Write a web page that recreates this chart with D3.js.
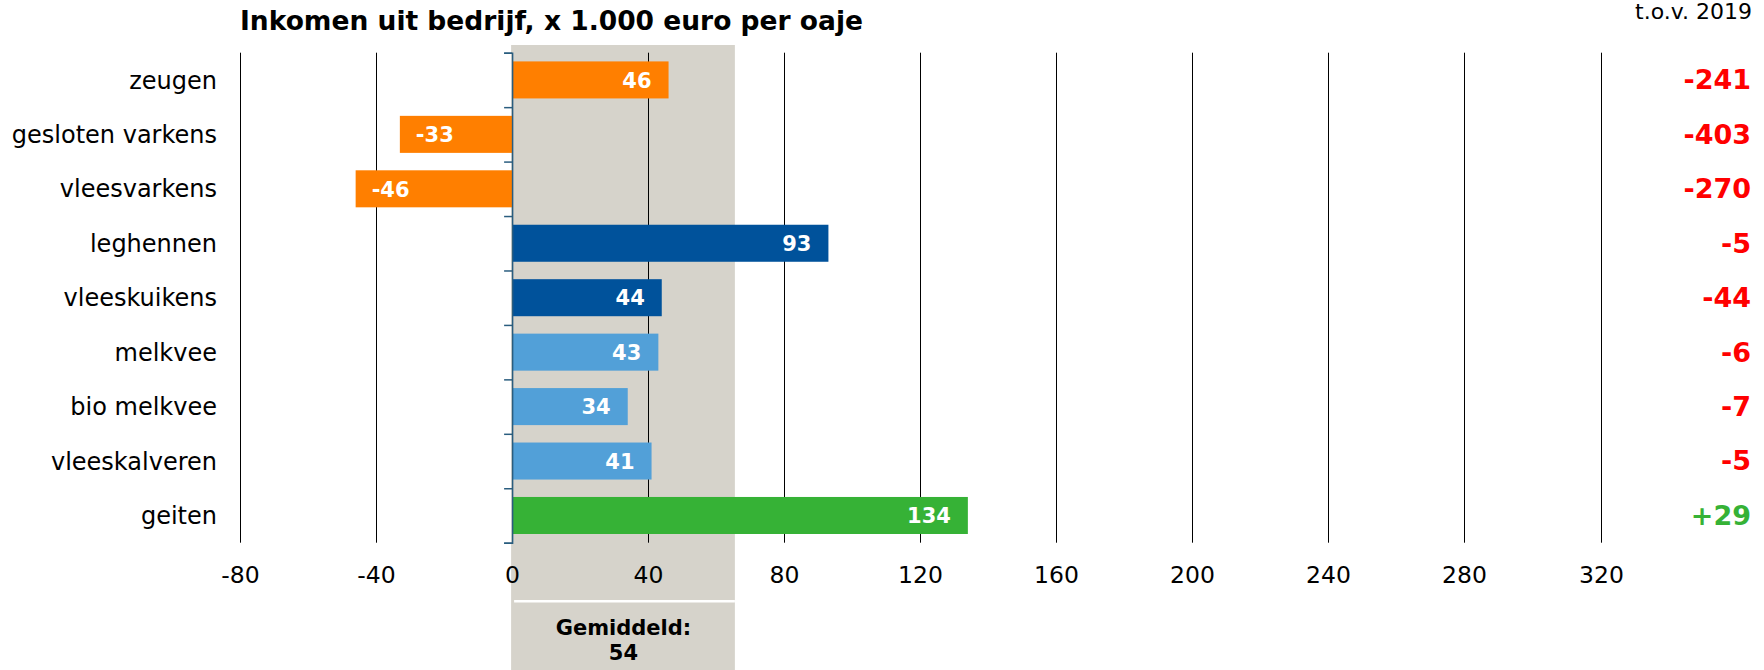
<html>
<head>
<meta charset="utf-8">
<script src="https://d3js.org/d3.v7.min.js"></script>
<style>
  body { margin: 0; background: #fff; }
  text { font-family: "DejaVu Sans", Verdana, sans-serif; }
</style>
</head>
<body>
<svg width="1764" height="670"></svg>
<script>
// data
var categories = ["zeugen", "gesloten varkens", "vleesvarkens", "leghennen", "vleeskuikens",
                  "melkvee", "bio melkvee", "vleeskalveren", "geiten"];
var sectors = ["varkens", "varkens", "varkens", "pluimvee", "pluimvee",
               "rundvee", "rundvee", "rundvee", "geiten"];
var incomes = [46, -33, -46, 93, 44, 43, 34, 41, 134];
var changes = [-241, -403, -270, -5, -44, -6, -7, -5, 29];
var xTicks = [-80, -40, 0, 40, 80, 120, 160, 200, 240, 280, 320];
var average = 54;
var shadeTo = 65.5;   // grey column runs from 0 to here

var svg = d3.select("svg");

var x = d3.scaleLinear().domain([-80, 320]).range([240, 1600.5]);
var y = d3.scaleBand().domain(categories).range([52.7, 542.7])
    .paddingInner(0.32).paddingOuter(0.16);
var yTicks = d3.scaleLinear().domain([0, categories.length]).range([52.7, 542.7]);

var colour = d3.scaleOrdinal()
    .domain(["varkens", "pluimvee", "rundvee", "geiten"])
    .range(["#ff7f00", "#00529b", "#52a0d8", "#36b236"]);

// grey column for the average
svg.append("rect")
    .attr("x", x(0) - 1).attr("y", 45)
    .attr("width", x(shadeTo) - x(0) + 1).attr("height", 625)
    .attr("fill", "#d6d3cb");
svg.append("line")
    .attr("x1", x(0) + 2).attr("x2", x(shadeTo))
    .attr("y1", 601.3).attr("y2", 601.3)
    .attr("stroke", "#fff").attr("stroke-width", 2.5);
var avgText = svg.append("text")
    .attr("text-anchor", "middle")
    .style("font-size", "21px").style("font-weight", "bold");
avgText.append("tspan").attr("x", (x(0) + x(shadeTo)) / 2).attr("y", 635).text("Gemiddeld:");
avgText.append("tspan").attr("x", (x(0) + x(shadeTo)) / 2).attr("y", 660).text(average);

// gridlines + x tick labels
var xAxis = svg.append("g")
    .attr("transform", "translate(0," + 542.7 + ")")
    .call(d3.axisBottom(x).tickValues(xTicks).tickSize(-490).tickPadding(24)
        .tickFormat(function(d){ return String(d); }));
xAxis.select(".domain").remove();
xAxis.selectAll(".tick")
    .attr("transform", function(d){ return "translate(" + (Math.round(x(d)) + 0.5) + ",0)"; });
xAxis.selectAll(".tick line")
    .attr("stroke", "#000")
    .attr("stroke-width", 1)
    .attr("display", function(d){ return d === 0 ? "none" : null; });
xAxis.selectAll(".tick text")
    .attr("fill", "#000")
    .style("font-size", "23.5px")
    .style("font-family", "'DejaVu Sans', Verdana, sans-serif");

// bars
svg.selectAll(".bar")
    .data(incomes)
    .enter()
    .append("rect")
    .attr("class", "bar")
    .attr("x", function(d){ return x(Math.min(0, d)); })
    .attr("y", function(d, i){ return y(categories[i]); })
    .attr("width", function(d){ return Math.abs(x(d) - x(0)); })
    .attr("height", y.bandwidth())
    .attr("fill", function(d, i){ return colour(sectors[i]); });

// zero axis with ticks between categories
var yAxis = svg.append("g")
    .attr("transform", "translate(" + x(0) + ",0)")
    .call(d3.axisLeft(yTicks).ticks(categories.length).tickSize(8).tickFormat(""));
yAxis.selectAll("path, line").attr("stroke", "#2a5d7f").attr("stroke-width", 1.5);

// bar value labels
svg.selectAll(".val")
    .data(incomes)
    .enter()
    .append("text")
    .attr("class", "val")
    .attr("x", function(d){ return d < 0 ? x(d) + 16 : x(d) - 17; })
    .attr("y", function(d, i){ return y(categories[i]) + y.bandwidth() / 2; })
    .attr("dy", "0.37em")
    .attr("text-anchor", function(d){ return d < 0 ? "start" : "end"; })
    .attr("fill", "#fff")
    .style("font-size", "21px").style("font-weight", "bold")
    .text(function(d){ return d; });

// category labels
svg.selectAll(".cat")
    .data(categories)
    .enter()
    .append("text")
    .attr("class", "cat")
    .attr("x", 217)
    .attr("y", function(d){ return y(d) + y.bandwidth() / 2; })
    .attr("dy", "0.36em")
    .attr("text-anchor", "end")
    .style("font-size", "24px")
    .text(function(d){ return d; });

// change vs 2019
svg.selectAll(".chg")
    .data(changes)
    .enter()
    .append("text")
    .attr("class", "chg")
    .attr("x", 1751)
    .attr("y", function(d, i){ return y(categories[i]) + y.bandwidth() / 2; })
    .attr("dy", "0.35em")
    .attr("text-anchor", "end")
    .attr("fill", function(d){ return d < 0 ? "#ff0000" : "#36b236"; })
    .style("font-size", "27px").style("font-weight", "bold")
    .text(function(d){ return (d > 0 ? "+" : "") + d; });

svg.append("text")
    .attr("x", 1752).attr("y", 19)
    .attr("text-anchor", "end")
    .style("font-size", "22px")
    .text("t.o.v. 2019");

// title
svg.append("text")
    .attr("x", 240).attr("y", 30)
    .style("font-size", "26.5px").style("font-weight", "bold")
    .text("Inkomen uit bedrijf, x 1.000 euro per oaje");
</script>
</body>
</html>
